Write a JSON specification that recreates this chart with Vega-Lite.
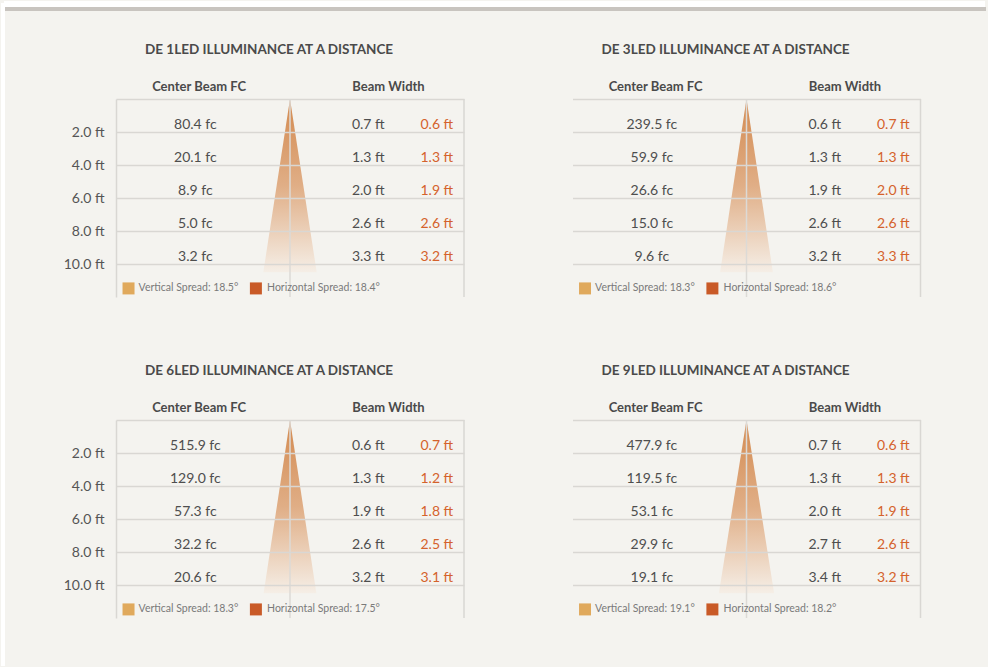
{
  "$schema": "https://vega.github.io/schema/vega-lite/v6.json",
  "background": "#f4f3ef",
  "padding": 0,
  "config": {"view": {"stroke": null}, "font": "Lato"},
  "data": {"values": [
    {"k": "p", "panel": "DE 1LED", "title": "DE 1LED ILLUMINANCE AT A DISTANCE", "vs": 18.5, "hs": 18.4},
    {"k": "p", "panel": "DE 3LED", "title": "DE 3LED ILLUMINANCE AT A DISTANCE", "vs": 18.3, "hs": 18.6},
    {"k": "p", "panel": "DE 6LED", "title": "DE 6LED ILLUMINANCE AT A DISTANCE", "vs": 18.3, "hs": 17.5},
    {"k": "p", "panel": "DE 9LED", "title": "DE 9LED ILLUMINANCE AT A DISTANCE", "vs": 19.1, "hs": 18.2},
    {"k": "r", "panel": "DE 1LED", "d": 2, "fc": 80.4, "v": 0.7, "h": 0.6},
    {"k": "r", "panel": "DE 1LED", "d": 4, "fc": 20.1, "v": 1.3, "h": 1.3},
    {"k": "r", "panel": "DE 1LED", "d": 6, "fc": 8.9, "v": 2.0, "h": 1.9},
    {"k": "r", "panel": "DE 1LED", "d": 8, "fc": 5.0, "v": 2.6, "h": 2.6},
    {"k": "r", "panel": "DE 1LED", "d": 10, "fc": 3.2, "v": 3.3, "h": 3.2},
    {"k": "r", "panel": "DE 3LED", "d": 2, "fc": 239.5, "v": 0.6, "h": 0.7},
    {"k": "r", "panel": "DE 3LED", "d": 4, "fc": 59.9, "v": 1.3, "h": 1.3},
    {"k": "r", "panel": "DE 3LED", "d": 6, "fc": 26.6, "v": 1.9, "h": 2.0},
    {"k": "r", "panel": "DE 3LED", "d": 8, "fc": 15.0, "v": 2.6, "h": 2.6},
    {"k": "r", "panel": "DE 3LED", "d": 10, "fc": 9.6, "v": 3.2, "h": 3.3},
    {"k": "r", "panel": "DE 6LED", "d": 2, "fc": 515.9, "v": 0.6, "h": 0.7},
    {"k": "r", "panel": "DE 6LED", "d": 4, "fc": 129.0, "v": 1.3, "h": 1.2},
    {"k": "r", "panel": "DE 6LED", "d": 6, "fc": 57.3, "v": 1.9, "h": 1.8},
    {"k": "r", "panel": "DE 6LED", "d": 8, "fc": 32.2, "v": 2.6, "h": 2.5},
    {"k": "r", "panel": "DE 6LED", "d": 10, "fc": 20.6, "v": 3.2, "h": 3.1},
    {"k": "r", "panel": "DE 9LED", "d": 2, "fc": 477.9, "v": 0.7, "h": 0.6},
    {"k": "r", "panel": "DE 9LED", "d": 4, "fc": 119.5, "v": 1.3, "h": 1.3},
    {"k": "r", "panel": "DE 9LED", "d": 6, "fc": 53.1, "v": 2.0, "h": 1.9},
    {"k": "r", "panel": "DE 9LED", "d": 8, "fc": 29.9, "v": 2.7, "h": 2.6},
    {"k": "r", "panel": "DE 9LED", "d": 10, "fc": 19.1, "v": 3.4, "h": 3.2},
    {"k": "c", "panel": "DE 1LED", "depth": 0, "lo": 0, "hi": 0},
    {"k": "c", "panel": "DE 1LED", "depth": 10.5, "lo": -1.71, "hi": 1.71},
    {"k": "c", "panel": "DE 3LED", "depth": 0, "lo": 0, "hi": 0},
    {"k": "c", "panel": "DE 3LED", "depth": 10.5, "lo": -1.69, "hi": 1.69},
    {"k": "c", "panel": "DE 6LED", "depth": 0, "lo": 0, "hi": 0},
    {"k": "c", "panel": "DE 6LED", "depth": 10.5, "lo": -1.69, "hi": 1.69},
    {"k": "c", "panel": "DE 9LED", "depth": 0, "lo": 0, "hi": 0},
    {"k": "c", "panel": "DE 9LED", "depth": 10.5, "lo": -1.77, "hi": 1.77}
  ]},
  "transform": [
    {"calculate": "(datum.panel == 'DE 1LED' || datum.panel == 'DE 3LED') ? 1 : 2", "as": "prow"},
    {"calculate": "(datum.panel == 'DE 1LED' || datum.panel == 'DE 6LED') ? 1 : 2", "as": "pcol"}
  ],
  "facet": {
    "row": {"field": "prow", "type": "ordinal", "header": {"labels": false, "title": null}},
    "column": {"field": "pcol", "type": "ordinal", "header": {"labels": false, "title": null}}
  },
  "bounds": "flush",
  "spacing": {"column": 108.5, "row": 123},
  "spec": {
    "width": 348,
    "height": 198,
    "resolve": {"scale": {"x": "independent"}},
    "layer": [
      {
        "transform": [{"filter": "datum.k == 'c'"}],
        "mark": {"type": "area", "orient": "horizontal", "fill": {"gradient": "linear", "x1": 0, "y1": 0, "x2": 0, "y2": 1, "stops": [{"offset": 0, "color": "#d38a50"}, {"offset": 0.5, "color": "#e0ae86"}, {"offset": 1, "color": "#f5eee6"}]}},
        "encoding": {
          "y": {"field": "depth", "type": "quantitative", "scale": {"domain": [0, 12], "reverse": true, "nice": false, "zero": false},
            "axis": {"title": null, "values": [0, 2, 4, 6, 8, 10], "grid": true, "gridColor": "#d9d7d3", "gridWidth": 1.5, "domain": true, "domainColor": "#d9d7d3", "domainWidth": 1.5, "ticks": false, "labelPadding": 12, "labelFontSize": 14, "labelColor": "#555555", "labelFont": "Lato", "zindex": 1, "labelExpr": "datum.value == 0 ? '' : format(datum.value, '.1f') + ' ft'"}},
          "x": {"field": "lo", "type": "quantitative", "scale": {"domain": [-11.15, 11.15], "nice": false, "zero": false}, "axis": null},
          "x2": {"field": "hi"}
        }
      },
      {
        "layer": [
          {
            "transform": [{"filter": "datum.k == 'r'"}, {"calculate": "format(datum.fc, '.1f') + ' fc'", "as": "t1"}],
            "mark": {"type": "text", "align": "center", "baseline": "alphabetic", "dy": -3.5, "fontSize": 14, "color": "#4e4e4e"},
            "encoding": {
              "x": {"datum": 22.8, "type": "quantitative", "scale": {"domain": [0, 100], "nice": false, "zero": false}, "axis": null},
              "y": {"field": "d", "type": "quantitative", "scale": {"domain": [0, 12], "reverse": true, "nice": false, "zero": false},
                "axis": {"title": null, "values": [0, 2, 4, 6, 8, 10], "grid": true, "gridColor": "#d9d7d3", "gridWidth": 1.5, "domain": true, "domainColor": "#d9d7d3", "domainWidth": 1.5, "ticks": false, "labelPadding": 12, "labelFontSize": 14, "labelColor": "#555555", "labelFont": "Lato", "zindex": 1, "labelExpr": "datum.value == 0 ? '' : format(datum.value, '.1f') + ' ft'"}},
              "text": {"field": "t1"}
            }
          },
          {
            "transform": [{"filter": "datum.k == 'r'"}, {"calculate": "format(datum.v, '.1f') + ' ft'", "as": "t2"}],
            "mark": {"type": "text", "align": "center", "baseline": "alphabetic", "dy": -3.5, "fontSize": 14, "color": "#4e4e4e"},
            "encoding": {
              "x": {"datum": 72.5, "type": "quantitative", "scale": {"domain": [0, 100], "nice": false, "zero": false}, "axis": null},
              "y": {"field": "d", "type": "quantitative", "scale": {"domain": [0, 12], "reverse": true, "nice": false, "zero": false},
                "axis": {"title": null, "values": [0, 2, 4, 6, 8, 10], "grid": true, "gridColor": "#d9d7d3", "gridWidth": 1.5, "domain": true, "domainColor": "#d9d7d3", "domainWidth": 1.5, "ticks": false, "labelPadding": 12, "labelFontSize": 14, "labelColor": "#555555", "labelFont": "Lato", "zindex": 1, "labelExpr": "datum.value == 0 ? '' : format(datum.value, '.1f') + ' ft'"}},
              "text": {"field": "t2"}
            }
          },
          {
            "transform": [{"filter": "datum.k == 'r'"}, {"calculate": "format(datum.h, '.1f') + ' ft'", "as": "t3"}],
            "mark": {"type": "text", "align": "center", "baseline": "alphabetic", "dy": -3.5, "fontSize": 14, "color": "#d4622c"},
            "encoding": {
              "x": {"datum": 92.2, "type": "quantitative", "scale": {"domain": [0, 100], "nice": false, "zero": false}, "axis": null},
              "y": {"field": "d", "type": "quantitative", "scale": {"domain": [0, 12], "reverse": true, "nice": false, "zero": false},
                "axis": {"title": null, "values": [0, 2, 4, 6, 8, 10], "grid": true, "gridColor": "#d9d7d3", "gridWidth": 1.5, "domain": true, "domainColor": "#d9d7d3", "domainWidth": 1.5, "ticks": false, "labelPadding": 12, "labelFontSize": 14, "labelColor": "#555555", "labelFont": "Lato", "zindex": 1, "labelExpr": "datum.value == 0 ? '' : format(datum.value, '.1f') + ' ft'"}},
              "text": {"field": "t3"}
            }
          },
          {
            "transform": [{"filter": "datum.k == 'p'"}],
            "mark": {"type": "text", "align": "left", "baseline": "middle", "fontSize": 13.5, "fontWeight": "bold", "color": "#4a4a4a"},
            "encoding": {
              "x": {"datum": 8.33, "type": "quantitative", "scale": {"domain": [0, 100], "nice": false, "zero": false}, "axis": null},
              "y": {"datum": -2.94, "type": "quantitative", "scale": {"domain": [0, 12], "reverse": true, "nice": false, "zero": false},
                "axis": {"title": null, "values": [0, 2, 4, 6, 8, 10], "grid": true, "gridColor": "#d9d7d3", "gridWidth": 1.5, "domain": true, "domainColor": "#d9d7d3", "domainWidth": 1.5, "ticks": false, "labelPadding": 12, "labelFontSize": 14, "labelColor": "#555555", "labelFont": "Lato", "zindex": 1, "labelExpr": "datum.value == 0 ? '' : format(datum.value, '.1f') + ' ft'"}},
              "text": {"field": "title"}
            }
          },
          {
            "transform": [{"filter": "datum.k == 'p'"}],
            "mark": {"type": "text", "align": "center", "baseline": "middle", "fontSize": 13, "fontWeight": "bold", "color": "#4a4a4a", "text": "Center Beam FC"},
            "encoding": {
              "x": {"datum": 23.9, "type": "quantitative", "scale": {"domain": [0, 100], "nice": false, "zero": false}, "axis": null},
              "y": {"datum": -0.73, "type": "quantitative", "scale": {"domain": [0, 12], "reverse": true, "nice": false, "zero": false},
                "axis": {"title": null, "values": [0, 2, 4, 6, 8, 10], "grid": true, "gridColor": "#d9d7d3", "gridWidth": 1.5, "domain": true, "domainColor": "#d9d7d3", "domainWidth": 1.5, "ticks": false, "labelPadding": 12, "labelFontSize": 14, "labelColor": "#555555", "labelFont": "Lato", "zindex": 1, "labelExpr": "datum.value == 0 ? '' : format(datum.value, '.1f') + ' ft'"}}
            }
          },
          {
            "transform": [{"filter": "datum.k == 'p'"}],
            "mark": {"type": "text", "align": "center", "baseline": "middle", "fontSize": 13, "fontWeight": "bold", "color": "#4a4a4a", "text": "Beam Width"},
            "encoding": {
              "x": {"datum": 78.3, "type": "quantitative", "scale": {"domain": [0, 100], "nice": false, "zero": false}, "axis": null},
              "y": {"datum": -0.73, "type": "quantitative", "scale": {"domain": [0, 12], "reverse": true, "nice": false, "zero": false},
                "axis": {"title": null, "values": [0, 2, 4, 6, 8, 10], "grid": true, "gridColor": "#d9d7d3", "gridWidth": 1.5, "domain": true, "domainColor": "#d9d7d3", "domainWidth": 1.5, "ticks": false, "labelPadding": 12, "labelFontSize": 14, "labelColor": "#555555", "labelFont": "Lato", "zindex": 1, "labelExpr": "datum.value == 0 ? '' : format(datum.value, '.1f') + ' ft'"}}
            }
          },
          {
            "transform": [{"filter": "datum.k == 'p'"}],
            "mark": {"type": "rule", "color": "#dcdad6", "strokeWidth": 1.5},
            "encoding": {
              "x": {"datum": 50, "type": "quantitative", "scale": {"domain": [0, 100], "nice": false, "zero": false}, "axis": null},
              "y": {"datum": 0, "type": "quantitative", "scale": {"domain": [0, 12], "reverse": true, "nice": false, "zero": false},
                "axis": {"title": null, "values": [0, 2, 4, 6, 8, 10], "grid": true, "gridColor": "#d9d7d3", "gridWidth": 1.5, "domain": true, "domainColor": "#d9d7d3", "domainWidth": 1.5, "ticks": false, "labelPadding": 12, "labelFontSize": 14, "labelColor": "#555555", "labelFont": "Lato", "zindex": 1, "labelExpr": "datum.value == 0 ? '' : format(datum.value, '.1f') + ' ft'"}},
              "y2": {"datum": 12}
            }
          },
          {
            "transform": [{"filter": "datum.k == 'p'"}],
            "mark": {"type": "rule", "color": "#d9d7d3", "strokeWidth": 1.5},
            "encoding": {
              "x": {"datum": 100, "type": "quantitative", "scale": {"domain": [0, 100], "nice": false, "zero": false}, "axis": null},
              "y": {"datum": 0, "type": "quantitative", "scale": {"domain": [0, 12], "reverse": true, "nice": false, "zero": false},
                "axis": {"title": null, "values": [0, 2, 4, 6, 8, 10], "grid": true, "gridColor": "#d9d7d3", "gridWidth": 1.5, "domain": true, "domainColor": "#d9d7d3", "domainWidth": 1.5, "ticks": false, "labelPadding": 12, "labelFontSize": 14, "labelColor": "#555555", "labelFont": "Lato", "zindex": 1, "labelExpr": "datum.value == 0 ? '' : format(datum.value, '.1f') + ' ft'"}},
              "y2": {"datum": 12}
            }
          },
          {
            "transform": [{"filter": "datum.k == 'p'"}],
            "mark": {"type": "square", "size": 144, "filled": true, "opacity": 1, "color": "#e0a95c"},
            "encoding": {
              "x": {"datum": 3.6, "type": "quantitative", "scale": {"domain": [0, 100], "nice": false, "zero": false}, "axis": null},
              "y": {"datum": 11.48, "type": "quantitative", "scale": {"domain": [0, 12], "reverse": true, "nice": false, "zero": false},
                "axis": {"title": null, "values": [0, 2, 4, 6, 8, 10], "grid": true, "gridColor": "#d9d7d3", "gridWidth": 1.5, "domain": true, "domainColor": "#d9d7d3", "domainWidth": 1.5, "ticks": false, "labelPadding": 12, "labelFontSize": 14, "labelColor": "#555555", "labelFont": "Lato", "zindex": 1, "labelExpr": "datum.value == 0 ? '' : format(datum.value, '.1f') + ' ft'"}}
            }
          },
          {
            "transform": [{"filter": "datum.k == 'p'"}],
            "mark": {"type": "square", "size": 144, "filled": true, "opacity": 1, "color": "#c95a27"},
            "encoding": {
              "x": {"datum": 40.2, "type": "quantitative", "scale": {"domain": [0, 100], "nice": false, "zero": false}, "axis": null},
              "y": {"datum": 11.48, "type": "quantitative", "scale": {"domain": [0, 12], "reverse": true, "nice": false, "zero": false},
                "axis": {"title": null, "values": [0, 2, 4, 6, 8, 10], "grid": true, "gridColor": "#d9d7d3", "gridWidth": 1.5, "domain": true, "domainColor": "#d9d7d3", "domainWidth": 1.5, "ticks": false, "labelPadding": 12, "labelFontSize": 14, "labelColor": "#555555", "labelFont": "Lato", "zindex": 1, "labelExpr": "datum.value == 0 ? '' : format(datum.value, '.1f') + ' ft'"}}
            }
          },
          {
            "transform": [{"filter": "datum.k == 'p'"}, {"calculate": "'Vertical Spread: ' + format(datum.vs, '.1f') + '°'", "as": "l1"}],
            "mark": {"type": "text", "align": "left", "baseline": "middle", "fontSize": 10.5, "color": "#7a7a7a"},
            "encoding": {
              "x": {"datum": 6.5, "type": "quantitative", "scale": {"domain": [0, 100], "nice": false, "zero": false}, "axis": null},
              "y": {"datum": 11.48, "type": "quantitative", "scale": {"domain": [0, 12], "reverse": true, "nice": false, "zero": false},
                "axis": {"title": null, "values": [0, 2, 4, 6, 8, 10], "grid": true, "gridColor": "#d9d7d3", "gridWidth": 1.5, "domain": true, "domainColor": "#d9d7d3", "domainWidth": 1.5, "ticks": false, "labelPadding": 12, "labelFontSize": 14, "labelColor": "#555555", "labelFont": "Lato", "zindex": 1, "labelExpr": "datum.value == 0 ? '' : format(datum.value, '.1f') + ' ft'"}},
              "text": {"field": "l1"}
            }
          },
          {
            "transform": [{"filter": "datum.k == 'p'"}, {"calculate": "'Horizontal Spread: ' + format(datum.hs, '.1f') + '°'", "as": "l2"}],
            "mark": {"type": "text", "align": "left", "baseline": "middle", "fontSize": 10.5, "color": "#7a7a7a"},
            "encoding": {
              "x": {"datum": 43.4, "type": "quantitative", "scale": {"domain": [0, 100], "nice": false, "zero": false}, "axis": null},
              "y": {"datum": 11.48, "type": "quantitative", "scale": {"domain": [0, 12], "reverse": true, "nice": false, "zero": false},
                "axis": {"title": null, "values": [0, 2, 4, 6, 8, 10], "grid": true, "gridColor": "#d9d7d3", "gridWidth": 1.5, "domain": true, "domainColor": "#d9d7d3", "domainWidth": 1.5, "ticks": false, "labelPadding": 12, "labelFontSize": 14, "labelColor": "#555555", "labelFont": "Lato", "zindex": 1, "labelExpr": "datum.value == 0 ? '' : format(datum.value, '.1f') + ' ft'"}},
              "text": {"field": "l2"}
            }
          },
          {
            "transform": [{"filter": "datum.k == 'p' && datum.panel == 'DE 1LED'"}],
            "mark": {"type": "rule", "color": "#ffffff", "strokeWidth": 6, "strokeCap": "butt"},
            "encoding": {
              "x": {"datum": -32.184, "type": "quantitative", "scale": {"domain": [0, 100], "nice": false, "zero": false}, "axis": null},
              "x2": {"datum": 249.713},
              "y": {"datum": -5.758, "type": "quantitative", "scale": {"domain": [0, 12], "reverse": true, "nice": false, "zero": false},
                "axis": {"title": null, "values": [0, 2, 4, 6, 8, 10], "grid": true, "gridColor": "#d9d7d3", "gridWidth": 1.5, "domain": true, "domainColor": "#d9d7d3", "domainWidth": 1.5, "ticks": false, "labelPadding": 12, "labelFontSize": 14, "labelColor": "#555555", "labelFont": "Lato", "zindex": 1, "labelExpr": "datum.value == 0 ? '' : format(datum.value, '.1f') + ' ft'"}}
            }
          },
          {
            "transform": [{"filter": "datum.k == 'p' && datum.panel == 'DE 1LED'"}],
            "mark": {"type": "rule", "color": "#c8c4bf", "strokeWidth": 4, "strokeCap": "butt"},
            "encoding": {
              "x": {"datum": -31.897, "type": "quantitative", "scale": {"domain": [0, 100], "nice": false, "zero": false}, "axis": null},
              "x2": {"datum": 250.0},
              "y": {"datum": -5.455, "type": "quantitative", "scale": {"domain": [0, 12], "reverse": true, "nice": false, "zero": false},
                "axis": {"title": null, "values": [0, 2, 4, 6, 8, 10], "grid": true, "gridColor": "#d9d7d3", "gridWidth": 1.5, "domain": true, "domainColor": "#d9d7d3", "domainWidth": 1.5, "ticks": false, "labelPadding": 12, "labelFontSize": 14, "labelColor": "#555555", "labelFont": "Lato", "zindex": 1, "labelExpr": "datum.value == 0 ? '' : format(datum.value, '.1f') + ' ft'"}}
            }
          },
          {
            "transform": [{"filter": "datum.k == 'p' && datum.panel == 'DE 1LED'"}],
            "mark": {"type": "rule", "color": "#ffffff", "strokeWidth": 4, "strokeCap": "butt"},
            "encoding": {
              "x": {"datum": -32.471, "type": "quantitative", "scale": {"domain": [0, 100], "nice": false, "zero": false}, "axis": null},
              "y": {"datum": -5.818, "type": "quantitative", "scale": {"domain": [0, 12], "reverse": true, "nice": false, "zero": false},
                "axis": {"title": null, "values": [0, 2, 4, 6, 8, 10], "grid": true, "gridColor": "#d9d7d3", "gridWidth": 1.5, "domain": true, "domainColor": "#d9d7d3", "domainWidth": 1.5, "ticks": false, "labelPadding": 12, "labelFontSize": 14, "labelColor": "#555555", "labelFont": "Lato", "zindex": 1, "labelExpr": "datum.value == 0 ? '' : format(datum.value, '.1f') + ' ft'"}},
              "y2": {"datum": 34.364}
            }
          }
        ]
      }
    ]
  }
}
